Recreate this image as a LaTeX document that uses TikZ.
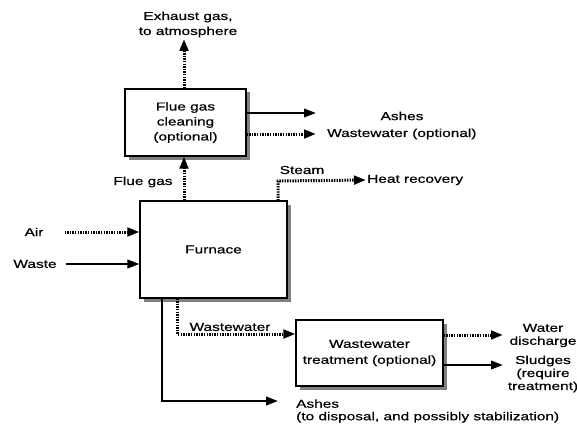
\documentclass[tikz,border=0pt]{standalone}
\usepackage{fontspec}
\setmainfont[FakeStretch=1.34,FakeBold=0.6]{Liberation Sans}
\usetikzlibrary{arrows.meta,shadows}
\begin{document}
\begin{tikzpicture}[x=1pt,y=-1pt,
  font=\fontsize{11.5}{13}\selectfont,
  box/.style={draw, line width=1.1pt, fill=white, inner sep=0pt, align=center,
    drop shadow={shadow xshift=3.5pt, shadow yshift=-3.5pt, fill=black!50, opacity=1}},
  lab/.style={inner sep=1pt, align=center},
  solidarr/.style={line width=2.2pt, -{Triangle[length=12pt,width=8.5pt]}},
  dotarr/.style={line width=3pt, dash pattern=on 1.4pt off 1.2pt, -{Triangle[length=12pt,width=8.5pt]}}]
\useasboundingbox (0,0) rectangle (577,425);
% boxes
\node[box, minimum width=121pt, minimum height=67pt, font=\fontsize{11.5}{15}\selectfont] (fgc) at (185.5,122.5) {Flue gas\\cleaning\\(optional)};
\node[box, minimum width=147pt, minimum height=97pt] (fur) at (213.5,249.5) {Furnace};
\node[box, minimum width=147pt, minimum height=66pt, font=\fontsize{11.5}{16}\selectfont] (wwt) at (369.5,353) {Wastewater\\treatment (optional)};
% labels
\node[lab, font=\fontsize{11.5}{15}\selectfont] (exlab) at (188,24.5) {Exhaust gas,\\to atmosphere};
\node[lab] (fglab) at (143,182) {Flue gas};
\node[lab] (stlab) at (302,170) {Steam};
\node[lab, anchor=west] (hr) at (366,180) {Heat recovery};
\node[lab] (ash1) at (402,116) {Ashes};
\node[lab, anchor=west] (ww1) at (326,134) {Wastewater (optional)};
\node[lab] (air) at (34,232) {Air};
\node[lab] (waste) at (35,264) {Waste};
\node[lab] (wwlab) at (230,327) {Wastewater};
\node[lab, font=\fontsize{11.5}{13}\selectfont] (wd) at (543,335.5) {Water\\discharge};
\node[lab, font=\fontsize{11.5}{13}\selectfont] (sl) at (543,374) {Sludges\\(require\\treatment)};
\node[lab, anchor=west, align=left, font=\fontsize{11.5}{12.5}\selectfont] (ash2) at (295,411) {Ashes\\(to disposal, and possibly stabilization)};
% coordinates
\coordinate (exh) at (184,39);
\coordinate (st1) at (278,181);
\coordinate (a1) at (316,113);
\coordinate (w1) at (316,134);
\coordinate (ab) at (162,401);
\coordinate (abt) at (278,401);
\coordinate (ww) at (177,334);
\coordinate (wd1) at (503,335);
\coordinate (sl1) at (503,365);
% connectors
\draw[dotarr] (fgc.north -| exh) -- (exh);
\draw[dotarr] (fur.north -| exh) -- (fgc.south -| exh);
\draw[dotarr] (fur.north -| st1) -- (st1) -- (hr.west);
\draw[solidarr] (fgc.east |- a1) -- (a1);
\draw[dotarr] (fgc.east |- w1) -- (w1);
\draw[dotarr] ([xshift=20pt]air.east) -- (fur.west |- air);
\draw[solidarr] ([xshift=8pt]waste.east) -- (fur.west |- waste);
\draw[solidarr] (fur.south -| ab) -- (ab) -- (abt);
\draw[dotarr] (fur.south -| ww) -- (ww) -- (wwt.west |- ww);
\draw[dotarr] (wwt.east |- wd1) -- (wd1);
\draw[solidarr] (wwt.east |- sl1) -- (sl1);
\end{tikzpicture}
\end{document}
